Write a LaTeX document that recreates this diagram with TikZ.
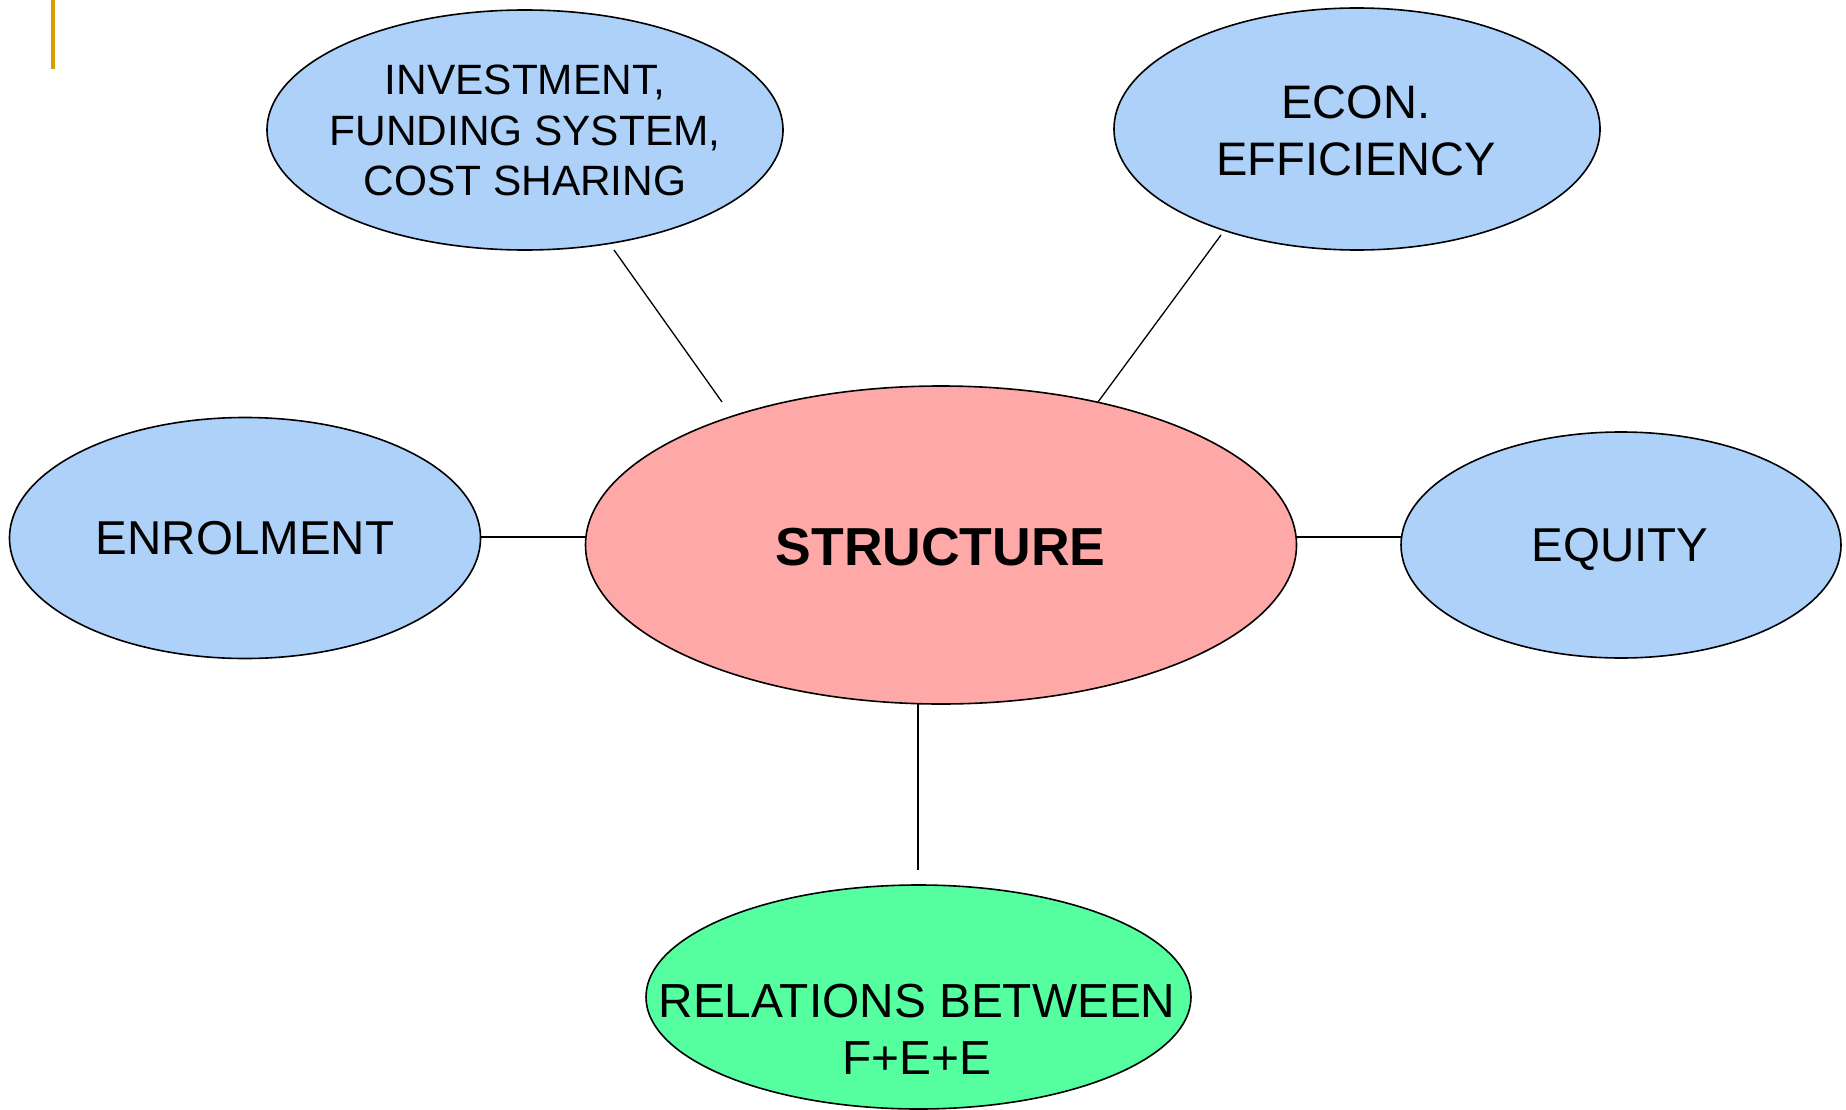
\documentclass[tikz,border=0pt]{standalone}
\usepackage{fontspec}
\setmainfont{Liberation Sans}
\usetikzlibrary{shapes.geometric}
\definecolor{bubbleblue}{RGB}{173,209,249}
\definecolor{bubblepink}{RGB}{255,168,168}
\definecolor{bubblegreen}{RGB}{85,255,160}
\definecolor{barorange}{RGB}{214,160,0}
\tikzset{
  bubble/.style={ellipse, draw=black, line width=1.6pt, inner sep=0pt, outer sep=0pt},
  bluebubble/.style={bubble, fill=bubbleblue},
  label text/.style={inner sep=0pt, align=center, text=black},
  link/.style={draw=black, line width=1.3pt}
}
\begin{document}
\begin{tikzpicture}[x=1pt, y=-1pt]
\useasboundingbox (0,0) rectangle (1846,1110);
\fill[white] (0,0) rectangle (1846,1110);
% accent bar
\fill[barorange] (51,0) rectangle (55,69);

% ellipses
\node[bluebubble, minimum width=516pt, minimum height=240pt] (inv) at (525,130) {};
\node[bluebubble, minimum width=486pt, minimum height=242pt] (econ) at (1357,129) {};
\node[bluebubble, minimum width=471pt, minimum height=241pt] (enrol) at (245,538) {};
\node[bubble, fill=bubblepink, minimum width=711pt, minimum height=318pt] (struct) at (941,545) {};
\node[bluebubble, minimum width=440pt, minimum height=226pt] (equity) at (1621,545) {};
\node[bubble, fill=bubblegreen, minimum width=545pt, minimum height=224pt] (rel) at (918.5,997) {};

% texts
\node[label text, font=\fontsize{42.4}{50.6}\selectfont] (invtxt) at (525,130.7)
  {INVESTMENT,\\FUNDING SYSTEM,\\COST SHARING};
\node[label text, font=\fontsize{47}{56.5}\selectfont] (econtxt) at (1356,130.7)
  {ECON.\\EFFICIENCY};
\node[label text, font=\fontsize{47.5}{56.5}\selectfont] (enroltxt) at (245,538.5) {ENROLMENT};
\node[label text, font=\fontsize{53.5}{60}\selectfont\bfseries] (structtxt) at (940.6,547.5) {STRUCTURE};
\node[label text, font=\fontsize{47.5}{56.5}\selectfont] (equitytxt) at (1620,549) {EQUITY};
\node[label text, font=\fontsize{47.8}{57}\selectfont] (reltxt) at (917,1029.5)
  {RELATIONS BETWEEN\\F+E+E};

% connector end points
\coordinate (invLow) at (614,250);
\coordinate (structInv) at (722,402);
\coordinate (econLow) at (1221,235);
\coordinate (structEcon) at (1098,402);
\coordinate (relTop) at (918,870);

% connectors
\draw[link] (invLow) -- (structInv);
\draw[link] (econLow) -- (structEcon);
\draw[link] (enrol.east |- 0,537) -- (struct.west |- 0,537);
\draw[link] (struct.east |- 0,537) -- (equity.west |- 0,537);
\draw[link] (struct.south -| relTop) -- (relTop);
\end{tikzpicture}
\end{document}
